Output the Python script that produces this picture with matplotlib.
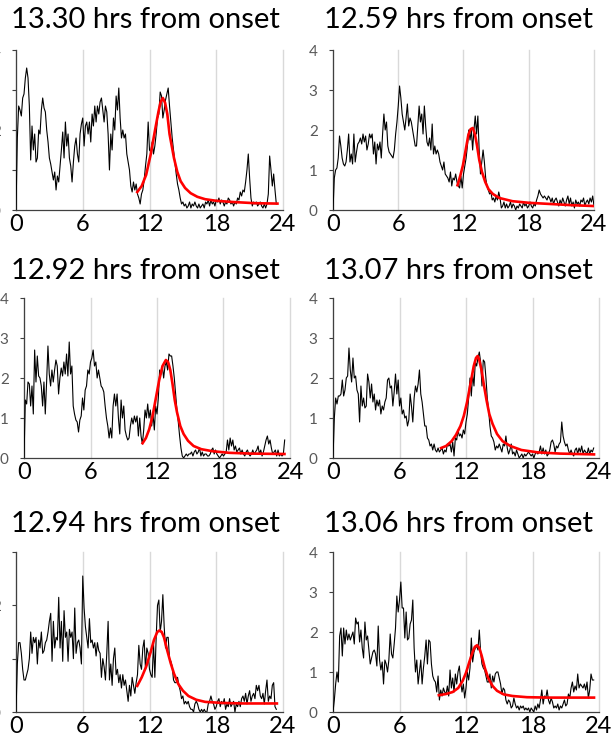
import numpy as np
import matplotlib
matplotlib.use('Agg')
import matplotlib.pyplot as plt

plt.rcParams['font.family'] = ['Lato', 'DejaVu Sans']

# sampling step of the recorded series (hours)
STEP = 0.12

titles = ['13.30 hrs from onset', '12.59 hrs from onset',
          '12.92 hrs from onset', '13.07 hrs from onset',
          '12.94 hrs from onset', '13.06 hrs from onset']

ymax = [4, 4, 4, 4, 3, 4]
xticks = [0, 6, 12, 18, 24]

# black traces, one value every STEP hours from onset
trace1 = [0, 1.8, 2.6, 2.5, 2.35, 2.8, 2.9, 3.3, 3.55, 3.3, 2.6, 1.25, 2.1, 1.5, 1.9, 1.2, 1.3, 2.0, 1.9, 2.5,
          2.8, 2.55, 2.45, 2.0, 1.7, 1.3, 1.15, 0.95, 0.75, 0.95, 0.5, 0.85, 0.7, 1.1, 1.5, 1.95, 1.3, 2.2, 1.6, 1.9,
          1.3, 1.1, 0.7, 1.2, 1.6, 1.8, 1.4, 1.2, 1.9, 2.15, 2.3, 1.6, 2.1, 2.2, 1.9, 2.2, 1.7, 2.4, 2.1, 2.6,
          2.2, 2.6, 2.4, 2.7, 2.8, 2.5, 2.2, 2.6, 2.45, 1.9, 1.0, 1.9, 1.5, 2.3, 2.0, 2.85, 2.5, 3.05, 2.3, 1.8,
          2.0, 1.8, 1.9, 1.4, 1.2, 1.0, 0.6, 0.45, 0.7, 0.5, 0.65, 0.4, 0.3, 0.15, 0.4, 0.5, 0.75, 1.1, 1.4, 2.2,
          1.5, 1.45, 1.7, 1.4, 1.6, 1.9, 2.3, 2.4, 2.95, 2.85, 2.3, 2.5, 2.75, 2.9, 3.05, 2.6, 2.2, 1.8, 1.5, 1.2,
          0.9, 0.65, 0.5, 0.3, 0.15, 0.2, 0.1, 0.15, 0.05, 0.1, 0.2, 0.05, 0.15, 0.1, 0.2, 0.1, 0.05, 0.15, 0.05, 0.1,
          0.15, 0.05, 0.2, 0.15, 0.25, 0.1, 0.25, 0.15, 0.2, 0.1, 0.25, 0.2, 0.3, 0.15, 0.25, 0.2, 0.1, 0.2, 0.15, 0.3,
          0.25, 0.15, 0.2, 0.1, 0.2, 0.15, 0.3, 0.25, 0.45, 0.35, 0.5, 0.45, 0.7, 1.0, 1.4, 0.8, 0.3, 0.1, 0.2, 0.15,
          0.2, 0.1, 0.15, 0.2, 0.1, 0.05, 0.15, 0.05, 0.15, 0.4, 1.35, 1.0, 0.6, 0.9, 0.5, 0.15]

trace2 = [0, 0.8, 1.0, 1.05, 1.3, 1.85, 1.6, 1.3, 1.15, 1.1, 1.2, 1.5, 1.9, 1.2, 1.4, 1.15, 1.9, 1.2, 1.45, 1.65,
          1.7, 1.8, 1.65, 1.9, 1.7, 1.85, 1.5, 1.65, 1.9, 1.8, 1.9, 1.4, 1.7, 1.15, 1.65, 1.5, 1.7, 1.3, 1.9, 2.4,
          2.0, 2.2, 1.6, 1.45, 1.4, 1.35, 1.3, 1.5, 1.9, 2.2, 2.6, 3.1, 2.8, 2.4, 2.2, 2.0, 2.3, 2.65, 2.1, 2.3,
          2.2, 2.0, 1.8, 1.6, 1.6, 2.1, 2.6, 2.2, 2.4, 1.9, 2.6, 2.1, 1.7, 1.6, 1.8, 1.5, 2.15, 1.4, 1.6, 1.4,
          1.5, 1.4, 1.2, 1.1, 1.0, 1.2, 0.9, 0.85, 0.8, 0.7, 0.95, 0.6, 0.8, 0.75, 0.9, 0.7, 0.6, 0.55, 0.85, 0.55,
          0.9, 1.1, 1.3, 1.6, 2.0, 1.75, 2.0, 1.5, 2.0, 2.35, 1.9, 2.35, 1.5, 0.9, 1.2, 1.5, 1.2, 0.8, 0.6, 0.5,
          0.4, 0.45, 0.25, 0.3, 0.2, 0.35, 0.25, 0.45, 0.3, 0.05, 0.1, 0.2, 0.05, 0.15, 0.05, 0.1, 0.2, 0.05, 0.15, 0.1,
          0.0, 0.1, 0.05, 0.15, 0.1, 0.05, 0.2, 0.1, 0.15, 0.05, 0.1, 0.2, 0.1, 0.05, 0.15, 0.1, 0.25, 0.35, 0.5, 0.4,
          0.35, 0.3, 0.35, 0.3, 0.25, 0.35, 0.3, 0.2, 0.3, 0.15, 0.25, 0.3, 0.2, 0.1, 0.25, 0.15, 0.3, 0.2, 0.1, 0.25,
          0.35, 0.15, 0.3, 0.1, 0.2, 0.05, 0.25, 0.15, 0.2, 0.1, 0.25, 0.2, 0.3, 0.1, 0.2, 0.25, 0.15, 0.3, 0.2, 0.35,
          0.1]

trace3 = [0, 1.45, 1.35, 1.9, 1.85, 1.3, 1.8, 1.1, 2.7, 1.9, 2.55, 2.05, 2.0, 1.8, 1.3, 1.9, 1.1, 1.9, 2.8, 2.1,
          1.8, 2.2, 1.9, 2.2, 2.45, 2.3, 1.6, 2.0, 2.25, 2.05, 2.4, 2.1, 2.6, 2.05, 2.9, 2.1, 2.3, 1.3, 1.1, 0.95,
          0.9, 0.65, 0.95, 1.05, 1.5, 1.2, 1.7, 1.8, 2.2, 2.1, 2.4, 2.5, 2.7, 2.3, 2.4, 2.0, 2.2, 2.0, 1.8, 1.75,
          1.65, 1.3, 1.0, 0.8, 0.5, 0.75, 0.5, 1.3, 1.6, 1.3, 1.6, 1.0, 0.6, 1.45, 1.0, 1.3, 0.7, 0.55, 0.45, 0.5,
          0.8, 1.0, 0.85, 1.05, 0.9, 1.05, 0.55, 1.0, 0.55, 0.35, 0.7, 1.2, 1.0, 1.35, 1.0, 1.2, 0.8, 1.1, 0.7, 1.3,
          1.1, 1.5, 2.2, 2.1, 2.3, 2.0, 2.3, 2.4, 2.2, 2.6, 2.55, 2.55, 2.3, 2.0, 1.6, 1.2, 0.9, 0.55, 0.25, 0.05,
          0.0, 0.05, 0.1, 0.05, 0.1, 0.1, 0.15, 0.05, 0.15, 0.2, 0.1, 0.15, 0.25, 0.05, 0.15, 0.05, 0.1, 0.1, 0.05, 0.05,
          0.1, 0.2, 0.25, 0.1, 0.2, 0.1, 0.05, 0.0, 0.05, 0.1, 0.05, 0.1, 0.15, 0.45, 0.2, 0.5, 0.3, 0.45, 0.2, 0.3,
          0.15, 0.2, 0.25, 0.1, 0.2, 0.1, 0.05, 0.15, 0.2, 0.1, 0.05, 0.1, 0.2, 0.1, 0.15, 0.2, 0.3, 0.1, 0.2, 0.05,
          0.15, 0.3, 0.45, 0.55, 0.35, 0.45, 0.25, 0.1, 0.15, 0.2, 0.05, 0.2, 0.05, 0.1, 0.05, 0.1, 0.45]

trace4 = [0, 1.0, 1.5, 1.35, 1.55, 1.55, 1.6, 1.95, 1.55, 1.7, 2.0, 2.05, 2.75, 2.2, 1.9, 2.5, 2.0, 2.05, 1.7, 1.6,
          0.9, 1.8, 1.3, 1.5, 1.25, 1.3, 2.1, 1.9, 1.5, 1.85, 1.4, 1.6, 1.2, 1.45, 1.3, 1.45, 1.1, 1.3, 1.2, 1.4,
          1.5, 1.95, 2.0, 1.75, 1.8, 1.3, 1.65, 2.1, 1.6, 1.95, 1.3, 1.5, 1.1, 1.2, 1.0, 1.05, 0.8, 0.95, 1.6, 1.3,
          0.9, 1.5, 1.8, 1.65, 1.85, 2.2, 1.6, 1.4, 1.1, 0.8, 0.8, 0.5, 0.45, 0.3, 0.35, 0.2, 0.35, 0.2, 0.15, 0.25,
          0.15, 0.2, 0.25, 0.1, 0.2, 0.15, 0.35, 0.3, 0.35, 0.15, 0.4, 0.05, 0.5, 0.45, 0.7, 0.55, 0.6, 0.5, 0.7, 0.6,
          0.9, 1.1, 1.5, 2.0, 1.55, 2.1, 1.8, 2.4, 2.3, 2.5, 2.65, 2.4, 1.8, 2.45, 2.4, 2.0, 1.5, 1.2, 0.8, 0.55,
          0.5, 0.4, 0.2, 0.3, 0.25, 0.35, 0.25, 0.15, 0.35, 0.3, 0.55, 0.25, 0.1, 0.2, 0.35, 0.1, 0.15, 0.05, 0.2, 0.1,
          0.0, 0.05, 0.1, 0.0, 0.1, 0.05, 0.1, 0.15, 0.1, 0.05, 0.1, 0.0, 0.1, 0.15, 0.1, 0.15, 0.3, 0.1, 0.25, 0.1,
          0.2, 0.05, 0.1, 0.2, 0.4, 0.45, 0.35, 0.15, 0.3, 0.25, 0.35, 0.4, 0.9, 0.55, 0.4, 0.3, 0.35, 0.2, 0.1, 0.2,
          0.1, 0.05, 0.2, 0.25, 0.1, 0.25, 0.15, 0.3, 0.1, 0.2, 0.15, 0.1, 0.25, 0.1, 0.2, 0.15, 0.25]

trace5 = [0, 0.9, 1.3, 1.3, 1.1, 0.8, 0.6, 0.6, 0.7, 0.8, 1.0, 1.5, 1.1, 1.4, 1.3, 1.4, 0.9, 1.35, 1.2, 1.5,
          1.1, 1.15, 1.3, 1.35, 1.5, 1.7, 1.85, 0.95, 1.7, 1.2, 1.4, 1.35, 2.15, 1.2, 1.7, 0.95, 1.9, 1.4, 1.5, 0.95,
          1.55, 1.4, 1.5, 1.0, 1.95, 1.1, 1.3, 1.35, 1.2, 0.9, 2.55, 1.95, 1.6, 1.4, 1.2, 1.75, 1.3, 1.35, 1.2, 1.3,
          1.05, 1.3, 1.15, 1.1, 0.65, 1.0, 0.85, 0.6, 1.1, 1.7, 0.6, 0.9, 0.5, 1.0, 1.2, 0.7, 0.8, 0.55, 0.7, 0.45,
          0.7, 0.5, 0.6, 0.4, 0.2, 0.5, 0.3, 0.65, 0.5, 0.35, 0.55, 0.7, 1.25, 0.9, 0.8, 1.2, 1.35, 0.8, 1.2, 1.1,
          0.8, 0.7, 0.65, 1.3, 0.65, 1.4, 2.0, 2.1, 1.5, 1.7, 2.2, 1.6, 1.2, 1.4, 1.4, 1.0, 0.95, 0.85, 0.6, 0.55,
          0.55, 0.65, 0.5, 0.4, 0.25, 0.3, 0.15, 0.2, 0.15, 0.2, 0.1, 0.05, 0.05, 0.0, 0.15, 0.2, 0.15, 0.05, 0.0, 0.05,
          0.0, 0.05, 0.0, 0.0, 0.15, 0.2, 0.3, 0.2, 0.15, 0.05, 0.1, 0.2, 0.25, 0.1, 0.2, 0.15, 0.25, 0.05, 0.15, 0.1,
          0.25, 0.1, 0.15, 0.2, 0.0, 0.15, 0.1, 0.2, 0.1, 0.25, 0.3, 0.2, 0.35, 0.15, 0.3, 0.4, 0.2, 0.3, 0.35, 0.25,
          0.5, 0.4, 0.5, 0.3, 0.25, 0.35, 0.15, 0.4, 0.6, 0.2, 0.3, 0.25, 0.5, 0.55, 0.1, 0.05]

trace6 = [0, 0.3, 0.7, 1.0, 0.75, 1.9, 2.1, 1.4, 2.1, 1.7, 2.05, 1.8, 1.95, 1.8, 1.9, 2.0, 1.7, 2.35, 2.2, 2.25,
          1.75, 2.05, 1.6, 1.35, 2.25, 1.8, 1.9, 1.55, 1.2, 1.35, 1.5, 1.55, 1.45, 1.15, 2.15, 1.3, 1.05, 1.25, 0.7, 1.3,
          1.2, 1.0, 1.3, 1.95, 1.45, 1.35, 1.7, 2.1, 2.9, 2.5, 2.8, 3.25, 2.6, 2.6, 1.85, 2.5, 1.8, 1.85, 2.2, 2.3,
          2.8, 1.6, 1.0, 1.3, 0.7, 1.0, 1.3, 0.7, 1.1, 1.4, 1.8, 1.2, 1.8, 1.75, 1.2, 0.9, 0.8, 0.75, 0.5, 0.9,
          0.3, 0.55, 0.4, 0.6, 0.5, 0.45, 0.65, 0.4, 1.05, 0.6, 0.85, 0.5, 0.95, 0.7, 1.0, 1.15, 0.75, 0.5, 0.7, 0.35,
          0.6, 1.0, 0.8, 1.1, 1.85, 1.25, 1.5, 1.6, 1.65, 1.55, 2.05, 1.5, 1.2, 1.1, 1.05, 0.9, 0.75, 0.75, 0.95, 0.6,
          0.9, 0.75, 0.95, 1.0, 1.0, 0.85, 0.7, 0.45, 0.6, 0.55, 0.3, 0.2, 0.3, 0.25, 0.1, 0.15, 0.35, 0.2, 0.1, 0.15,
          0.05, 0.15, 0.1, 0.15, 0.05, 0.1, 0.05, 0.1, 0.0, 0.1, 0.05, 0.0, 0.15, 0.05, 0.2, 0.1, 0.3, 0.55, 0.2, 0.4,
          0.35, 0.55, 0.3, 0.2, 0.35, 0.25, 0.1, 0.15, 0.1, 0.2, 0.05, 0.15, 0.1, 0.2, 0.3, 0.15, 0.2, 0.45, 0.35, 0.6,
          0.75, 0.5, 0.65, 0.55, 0.95, 0.6, 0.7, 0.65, 0.6, 0.7, 0.55, 0.75, 0.35, 0.55, 0.95, 0.8, 0.8]

traces = [trace1, trace2, trace3, trace4, trace5, trace6]

# fitted peaks (red)
fit1_t = [10.9, 11.3, 11.7, 12.1, 12.5, 12.8, 13.0, 13.2, 13.4, 13.6, 13.8, 14.0, 14.2, 14.5, 14.8, 15.2,
          15.7, 16.3, 17.0, 18.0, 19.5, 21.5, 23.5]
fit1_v = [0.45, 0.6, 0.88, 1.38, 2.0, 2.45, 2.7, 2.8, 2.68, 2.4, 1.9, 1.6, 1.3, 0.95, 0.72, 0.55,
          0.42, 0.33, 0.27, 0.23, 0.2, 0.17, 0.16]
fit2_t = [11.45, 11.7, 11.95, 12.2, 12.45, 12.65, 12.85, 13.05, 13.25, 13.45, 13.7, 14.0, 14.3, 14.7, 15.3,
          16.5, 18.0, 20.0, 22.0, 23.9]
fit2_v = [0.62, 0.85, 1.12, 1.5, 1.88, 2.02, 2.05, 1.9, 1.6, 1.25, 0.95, 0.7, 0.52, 0.4, 0.3,
          0.22, 0.18, 0.15, 0.12, 0.1]
fit3_t = [10.7, 11.0, 11.3, 11.6, 11.9, 12.2, 12.5, 12.8, 13.0, 13.2, 13.4, 13.6, 13.8, 14.1, 14.4, 14.8,
          15.3, 16.0, 17.0, 18.5, 20.5, 23.5]
fit3_v = [0.37, 0.5, 0.72, 1.05, 1.5, 1.95, 2.3, 2.45, 2.4, 2.2, 1.85, 1.45, 1.15, 0.8, 0.6, 0.43,
          0.3, 0.22, 0.17, 0.13, 0.11, 0.1]
fit4_t = [9.75, 10.2, 10.7, 11.1, 11.5, 11.8, 12.1, 12.4, 12.7, 12.9, 13.05, 13.2, 13.4, 13.6, 13.85, 14.1,
          14.4, 14.8, 15.3, 16.0, 17.0, 18.5, 20.5, 23.55]
fit4_v = [0.25, 0.3, 0.42, 0.58, 0.8, 1.05, 1.4, 1.85, 2.3, 2.5, 2.55, 2.45, 2.2, 1.85, 1.45, 1.1,
          0.85, 0.6, 0.42, 0.3, 0.2, 0.14, 0.11, 0.09]
fit5_t = [10.9, 11.3, 11.7, 12.1, 12.4, 12.7, 12.9, 13.1, 13.3, 13.6, 13.9, 14.2, 14.6, 15.0, 15.5, 16.2,
          17.0, 18.5, 20.5, 23.45]
fit5_v = [0.49, 0.65, 0.85, 1.12, 1.35, 1.5, 1.53, 1.5, 1.4, 1.15, 0.92, 0.72, 0.52, 0.4, 0.3, 0.23,
          0.19, 0.17, 0.16, 0.16]
fit6_t = [9.55, 10.2, 10.8, 11.3, 11.7, 12.0, 12.3, 12.6, 12.8, 13.0, 13.2, 13.4, 13.7, 14.0, 14.4, 14.8,
          15.4, 16.2, 17.5, 19.5, 23.55]
fit6_v = [0.42, 0.45, 0.5, 0.6, 0.78, 0.98, 1.25, 1.5, 1.63, 1.67, 1.6, 1.42, 1.1, 0.85, 0.65, 0.53,
          0.44, 0.4, 0.37, 0.36, 0.36]

fits = [(fit1_t, fit1_v), (fit2_t, fit2_v), (fit3_t, fit3_v),
        (fit4_t, fit4_v), (fit5_t, fit5_v), (fit6_t, fit6_v)]

W, H = 612, 738
# axes boxes in pixels: left, top, right, bottom
boxes = [(16, 50, 283, 210), (333, 50, 594, 210),
         (24, 298, 290, 458), (333, 298, 599, 458),
         (16, 552, 283, 712), (333, 552, 599, 712)]
title_pos = [(145, 20), (458, 20), (145, 271), (458, 271), (145, 524), (458, 524)]

fig = plt.figure(figsize=(W / 100, H / 100), dpi=100)

for i in range(6):
    l, t, r, b = boxes[i]
    ax = fig.add_axes([l / W, 1 - b / H, (r - l) / W, (b - t) / H])
    y = traces[i]
    x = np.arange(len(y)) * STEP
    ax.plot(x, y, color='black', lw=0.8, zorder=3)
    ax.plot(fits[i][0], fits[i][1], color='#ff0000', lw=1.9, zorder=4)

    ax.set_xlim(0, 24)
    ax.set_ylim(0, ymax[i])
    ax.set_xticks(xticks)
    ax.set_yticks(range(ymax[i] + 1))
    ax.grid(axis='x', color='#d9d9d9', lw=1.0)
    for gl in ax.xaxis.get_gridlines():
        gl.set_clip_on(False)
    ax.set_axisbelow(True)

    for s in ['top', 'right']:
        ax.spines[s].set_visible(False)
    ax.spines['left'].set_color('#404040')
    ax.spines['bottom'].set_color('#404040')
    ax.spines['left'].set_linewidth(0.9)
    ax.spines['bottom'].set_linewidth(0.9)

    ax.tick_params(axis='x', length=0, labelsize=17, colors='black', pad=3)
    ax.tick_params(axis='y', length=3, width=0.8, direction='out', labelsize=11,
                   labelcolor='#595959', color='#404040', pad=8)

    fig.text(title_pos[i][0] / W, 1 - title_pos[i][1] / H, titles[i],
             ha='center', va='center', fontsize=21, color='black')

plt.savefig('out.png', dpi=100)
